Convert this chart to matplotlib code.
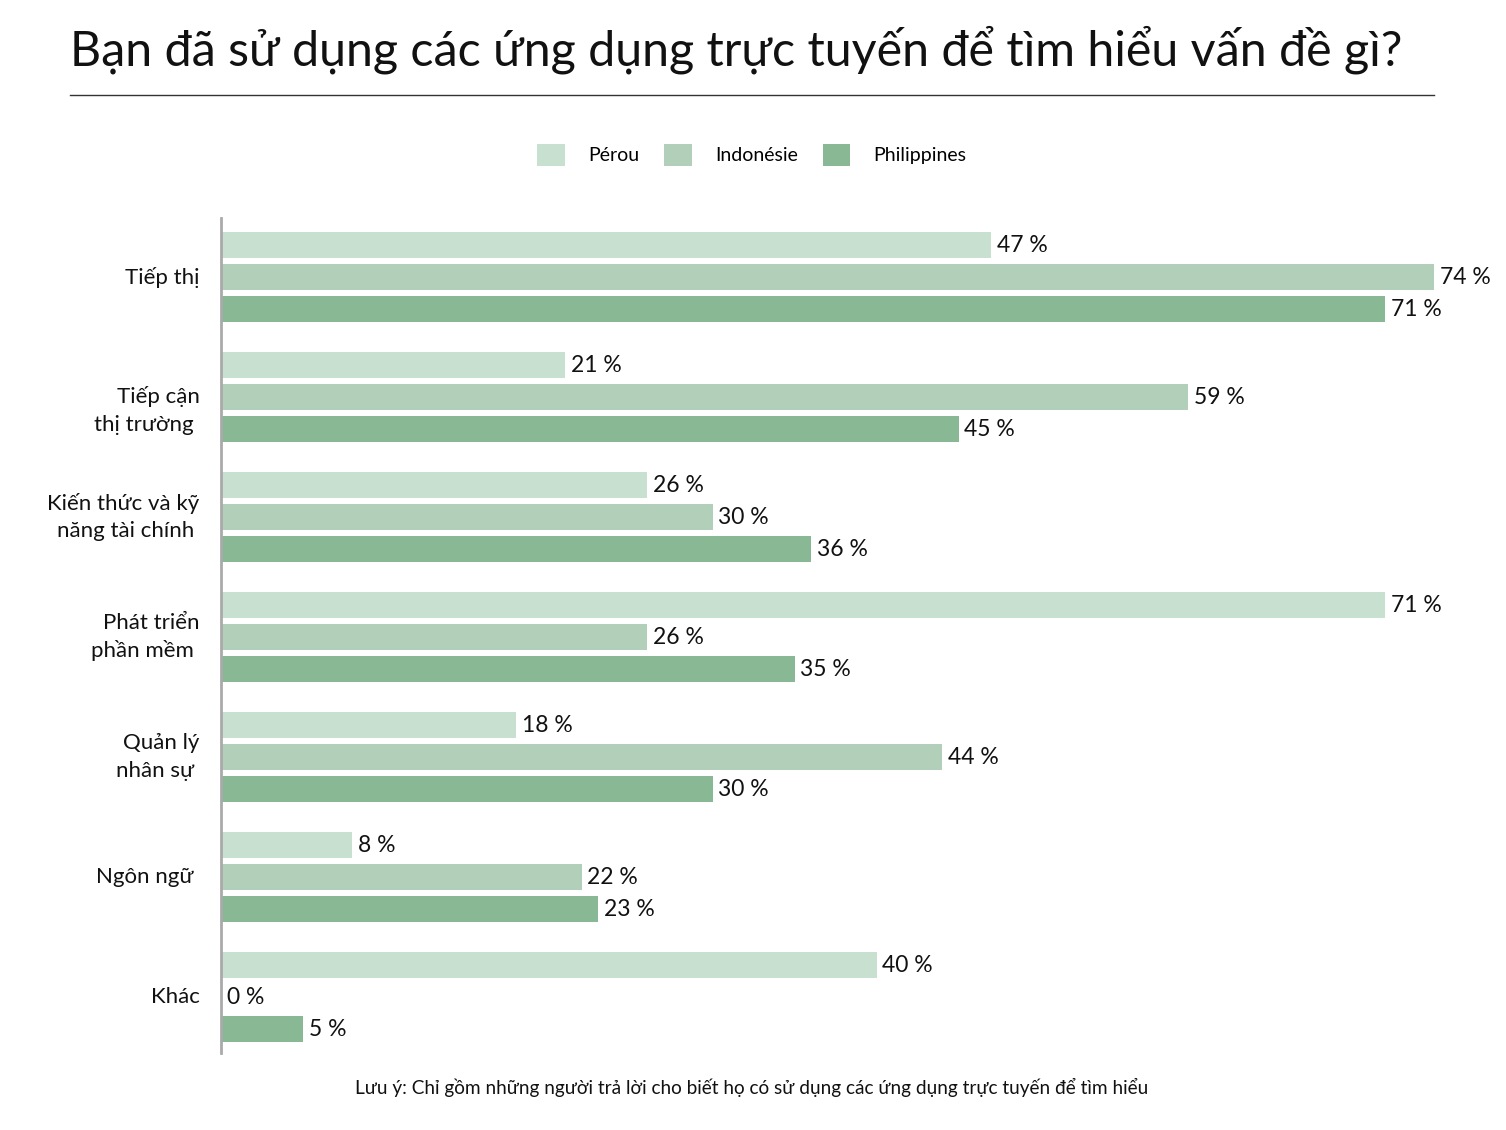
"""
Biểu đồ thanh ngang: ứng dụng trực tuyến dùng để tìm hiểu vấn đề gì
"""

import numpy as np
import matplotlib.pyplot as plt

plt.rcParams['font.family'] = ['Lato', 'Noto Sans', 'DejaVu Sans']

# dữ liệu
categories = ['Tiếp thị', 'Tiếp cận\nthị trường ', 'Kiến thức và kỹ\nnăng tài chính ',
              'Phát triển\nphần mềm ', 'Quản lý\nnhân sự ', 'Ngôn ngữ ', 'Khác']
series = ['Pérou', 'Indonésie', 'Philippines']
peru = [47, 21, 26, 71, 18, 8, 40]
indonesia = [74, 59, 30, 26, 44, 22, 0]
philippines = [71, 45, 36, 35, 30, 23, 5]
colors = ['#c8e0cf', '#b1cfb9', '#89b894']

W, H = 1506, 1130
fig = plt.figure(figsize=(W / 100, H / 100), dpi=100)

# trục: x=221..1434 px, y=218..1053 px
ax = fig.add_axes([221 / W, 1 - 1053 / H, (1434 - 221) / W, (1053 - 218) / H])
group_step = 3.75  # 120 px / 32 px
values = [peru, indonesia, philippines]
for j, (name, vals, col) in enumerate(zip(series, values, colors)):
    ys = np.arange(len(categories)) * group_step + j
    ax.barh(ys, vals, height=26 / 32, color=col, label=name)
    for y, v in zip(ys, vals):
        ax.text(v + 0.35, y, f'{v} %', va='center', ha='left',
                fontsize=16.5, color='#111111', clip_on=False)

centers = np.arange(len(categories)) * group_step + 1
# nhãn "Tiếp cận" trong ảnh gốc hơi lệch xuống
nudge = [0, 0.42, 0, 0, 0, 0, 0]
for c, lab, dy in zip(centers, categories, nudge):
    ax.text(-1.3, c + dy, lab, ha='right', va='center', fontsize=16,
            multialignment='right', linespacing=1.45, color='#111111')

ax.set_xlim(0, 74)
ax.set_ylim((1053 - 245) / 32, -(245 - 218) / 32)
ax.set_xticks([])
ax.set_yticks([])
for s in ['top', 'right', 'bottom']:
    ax.spines[s].set_visible(False)
ax.spines['left'].set_color('#aaaaaa')
ax.spines['left'].set_linewidth(2)

# tiêu đề
fig.text(70 / W, 1 - 50 / H, 'Bạn đã sử dụng các ứng dụng trực tuyến để tìm hiểu vấn đề gì?',
         fontsize=34.8, ha='left', va='center', color='#111111')
fig.add_artist(plt.Line2D([70 / W, 1434 / W], [1 - 95 / H, 1 - 95 / H],
                          color='#333333', linewidth=1))

# chú giải
leg = fig.legend(loc='center', bbox_to_anchor=(752 / W, 1 - 155 / H), ncol=3,
                 frameon=False, fontsize=14, handlelength=1.4, handleheight=1.4,
                 handletextpad=1.2, columnspacing=1.3)

# ghi chú
fig.text(752 / W, 1 - 1087 / H,
         'Lưu ý: Chỉ gồm những người trả lời cho biết họ có sử dụng các ứng dụng trực tuyến để tìm hiểu',
         fontsize=13.7, ha='center', va='center', color='#111111')

fig.savefig('out.png', dpi=100)
